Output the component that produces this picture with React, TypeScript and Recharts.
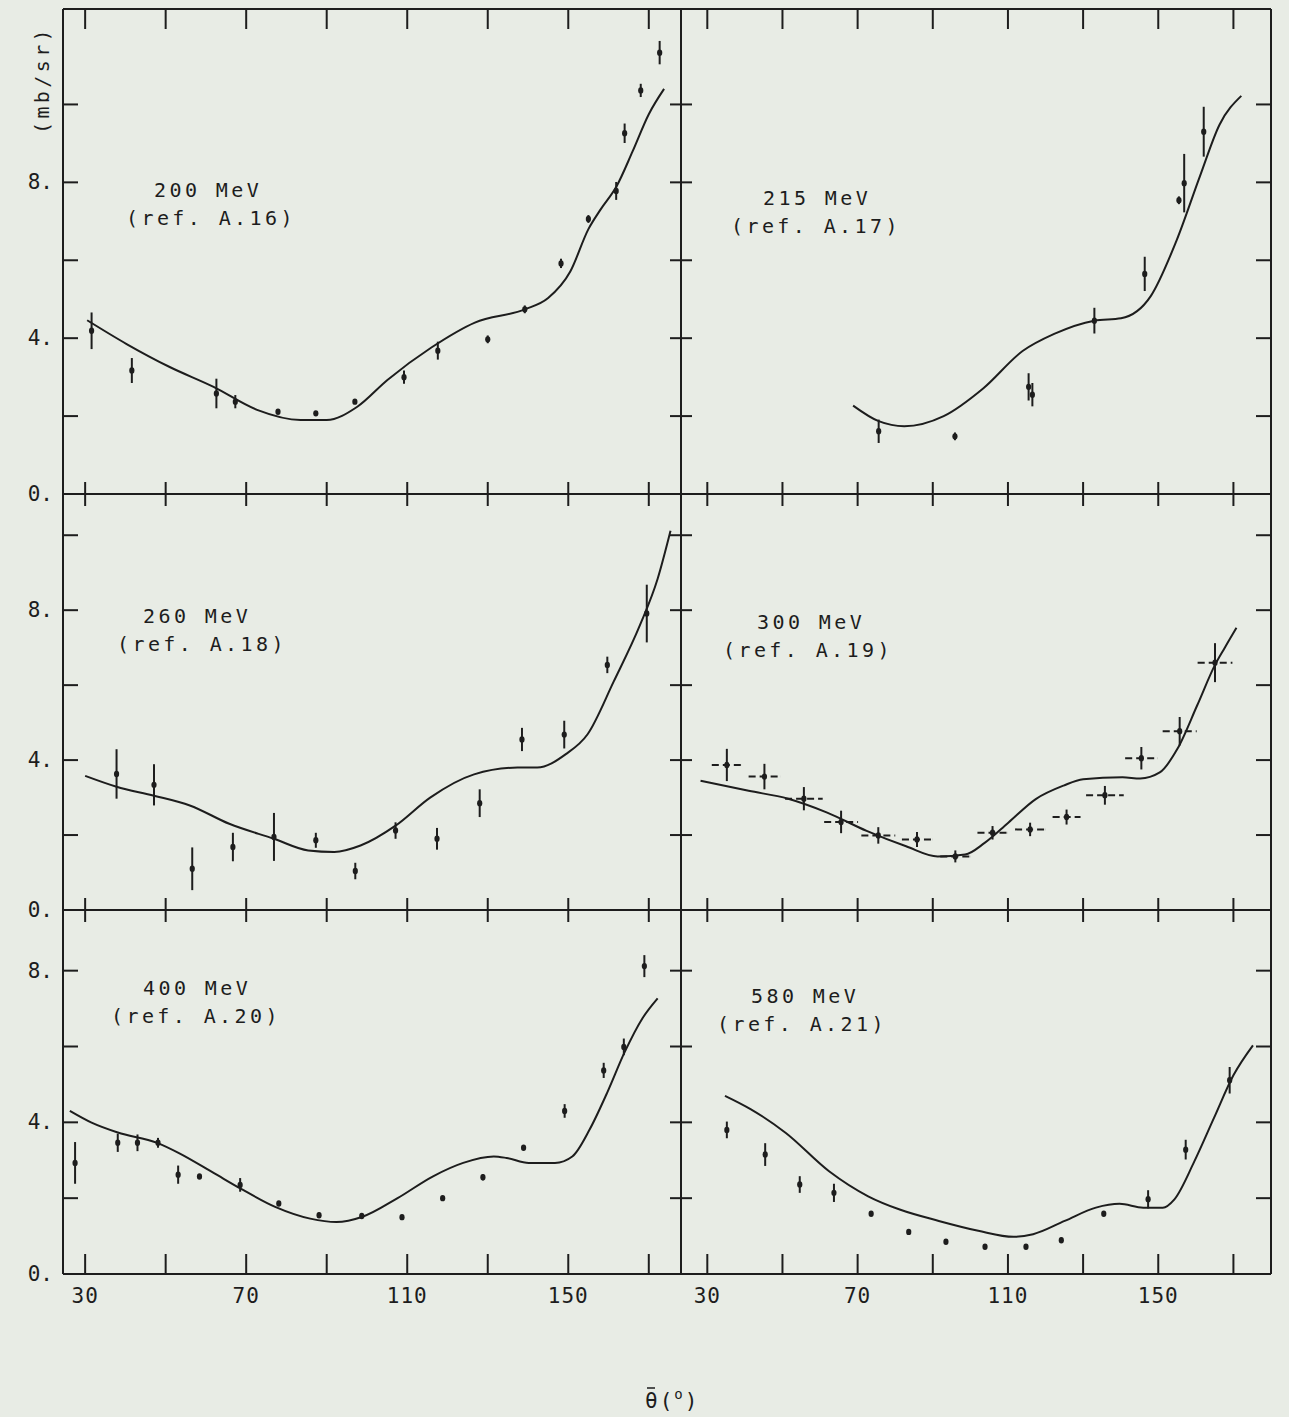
import React from 'react';
import { ComposedChart, Line, Scatter, XAxis, YAxis, ErrorBar } from 'recharts';

// ---- data (angle in degrees, cross section in mb/sr)

const ang200 = [31.6, 41.6, 62.6, 67.3, 77.9, 87.3, 97.0, 109.2, 117.6, 130.0, 139.2, 148.2, 155.0, 161.9, 164.0, 168.0, 172.7];
const val200 = [4.19, 3.17, 2.58, 2.37, 2.11, 2.07, 2.37, 3.0, 3.68, 3.97, 4.74, 5.92, 7.06, 7.78, 9.26, 10.36, 11.33];
const err200 = [0.47, 0.32, 0.38, 0.17, 0.05, 0.04, 0.05, 0.17, 0.23, 0.1, 0.1, 0.12, 0.1, 0.23, 0.25, 0.17, 0.3];
const fitAng200 = [30.5, 40.3, 51, 61.9, 72.7, 83.5, 90, 97.6, 105, 116, 126.8, 139.2, 145, 150.5, 155, 158, 162, 166, 170, 173.8];
const fitVal200 = [4.46, 3.85, 3.26, 2.75, 2.16, 1.9, 1.9, 2.24, 2.92, 3.76, 4.4, 4.74, 5.03, 5.71, 6.8, 7.3, 7.9, 8.8, 9.75, 10.4];

const ang215 = [75.6, 95.9, 115.5, 116.5, 133.0, 146.4, 155.5, 156.9, 162.1];
const val215 = [1.61, 1.48, 2.75, 2.55, 4.45, 5.65, 7.54, 7.98, 9.3];
const err215 = [0.3, 0.1, 0.35, 0.3, 0.33, 0.44, 0.1, 0.75, 0.64];
const fitAng215 = [68.8, 75.6, 82.4, 92.9, 103.4, 113.9, 122.3, 133.0, 140.1, 148.0, 154.8, 161.1, 166.3, 172.1];
const fitVal215 = [2.27, 1.87, 1.74, 2.0, 2.71, 3.67, 4.11, 4.45, 4.51, 5.08, 6.49, 8.16, 9.48, 10.22];

const ang260 = [37.8, 47.1, 56.6, 66.7, 76.9, 87.3, 97.1, 107.1, 117.4, 128.0, 138.5, 149.0, 159.7, 169.5];
const val260 = [3.63, 3.34, 1.1, 1.68, 1.95, 1.86, 1.04, 2.12, 1.9, 2.85, 4.55, 4.68, 6.54, 7.91];
const err260 = [0.66, 0.55, 0.57, 0.38, 0.64, 0.2, 0.22, 0.22, 0.29, 0.37, 0.31, 0.37, 0.22, 0.77];
const fitAng260 = [30, 37.8, 47.1, 56, 65.8, 76.9, 85.4, 91.9, 98.4, 107.1, 115.7, 126.6, 137.4, 142.3, 149.4, 154.8, 161.3, 167.8, 172.2, 175.4];
const fitVal260 = [3.58, 3.29, 3.05, 2.79, 2.3, 1.9, 1.59, 1.55, 1.72, 2.25, 3.0, 3.62, 3.8, 3.8, 4.16, 4.69, 6.1, 7.6, 8.84, 10.12];

const ang300 = [35.2, 45.2, 55.7, 65.6, 75.5, 85.8, 96.0, 105.9, 115.9, 125.6, 135.8, 145.5, 155.7, 165.1];
const val300 = [3.87, 3.56, 2.97, 2.35, 1.99, 1.88, 1.43, 2.06, 2.15, 2.48, 3.06, 4.05, 4.77, 6.6];
const err300 = [0.43, 0.34, 0.31, 0.3, 0.22, 0.2, 0.16, 0.18, 0.18, 0.2, 0.25, 0.3, 0.38, 0.52];
const xerr300 = [4.0, 4.2, 5.0, 4.5, 4.5, 4.0, 4.0, 4.0, 4.0, 3.7, 5.0, 4.3, 4.5, 4.6];
const fitAng300 = [28.2, 41, 51.5, 61.9, 72.4, 82.9, 91.3, 98.6, 103.8, 110.1, 117.4, 124.8, 130, 140.5, 145.2, 150.4, 155.1, 160.4, 165.1, 167.7, 170.8];
const fitVal300 = [3.45, 3.18, 2.97, 2.6, 2.11, 1.7, 1.43, 1.48, 1.79, 2.33, 2.96, 3.32, 3.49, 3.54, 3.51, 3.67, 4.3, 5.47, 6.54, 7.0, 7.53];

const ang400 = [27.5, 38.1, 43.0, 48.1, 53.1, 58.4, 68.5, 78.1, 88.1, 98.7, 108.7, 118.8, 128.8, 138.9, 149.1, 158.8, 163.8, 168.9];
const val400 = [2.93, 3.46, 3.46, 3.46, 2.62, 2.57, 2.35, 1.86, 1.55, 1.53, 1.5, 2.0, 2.55, 3.33, 4.3, 5.37, 5.99, 8.12];
const err400 = [0.55, 0.24, 0.22, 0.13, 0.24, 0.05, 0.18, 0.06, 0.07, 0.07, 0.05, 0.05, 0.08, 0.05, 0.18, 0.2, 0.22, 0.29];
const fitAng400 = [26.2, 31.6, 38.1, 47.9, 53.3, 62, 68.5, 77.2, 85.9, 92.4, 98.9, 107.6, 116.3, 123.9, 131.5, 134.7, 140.2, 146.7, 151, 155.3, 159.7, 164, 168.4, 172.2];
const fitVal400 = [4.3, 3.99, 3.73, 3.46, 3.19, 2.66, 2.26, 1.77, 1.46, 1.37, 1.51, 2.0, 2.57, 2.93, 3.1, 3.06, 2.93, 2.93, 3.1, 3.81, 4.79, 5.85, 6.74, 7.27];

const ang580 = [35.2, 45.4, 54.6, 63.7, 73.6, 83.6, 93.5, 103.9, 114.8, 124.2, 135.5, 147.3, 157.3, 169.0];
const val580 = [3.8, 3.15, 2.36, 2.14, 1.59, 1.11, 0.85, 0.72, 0.72, 0.89, 1.59, 1.97, 3.28, 5.11];
const err580 = [0.22, 0.3, 0.22, 0.24, 0.04, 0.04, 0.04, 0.04, 0.04, 0.07, 0.05, 0.24, 0.26, 0.35];
const fitAng580 = [34.7, 41.5, 50.9, 62.4, 72.8, 81.2, 91.6, 102.1, 111.5, 116.7, 125.1, 133.4, 139.7, 146, 151.2, 154.3, 159.6, 164.8, 170, 175.2];
const fitVal580 = [4.7, 4.35, 3.72, 2.71, 2.05, 1.7, 1.4, 1.14, 0.98, 1.05, 1.4, 1.75, 1.85, 1.75, 1.75, 1.97, 2.97, 4.11, 5.24, 6.03];

const xTicks = [30, 50, 70, 90, 110, 130, 150, 170];
const xLabels = [30, 70, 110, 150];
const yLabels = [0, 4, 8];

const INK = '#1d1d1d';
const FONT = '"DejaVu Sans Mono", monospace';
// outer room around each plot frame; axes take 1px each so the frame lands on the panel edges
const PAD = { top: 29, right: 29, bottom: 44, left: 69 };

const points = (a: number[], v: number[], e: number[], xe?: number[]) =>
  a.map((x, i) => ({ x, y: v[i], e: e[i], xe: xe ? xe[i] : 0 }));
const curve = (a: number[], v: number[]) => a.map((x, i) => ({ x, y: v[i] }));

type Side = 'top' | 'bottom' | 'left' | 'right';

const tickRenderer = (side: Side, len: number, labels: number[]) => (props: any) => {
  const { x, y, payload } = props;
  const v = payload.value;
  let line;
  if (side === 'bottom') line = <line x1={x} y1={y} x2={x} y2={y - len} />;
  else if (side === 'top') line = <line x1={x} y1={y} x2={x} y2={y + len} />;
  else if (side === 'left') line = <line x1={x} y1={y} x2={x + len} y2={y} />;
  else line = <line x1={x} y1={y} x2={x - len} y2={y} />;
  const show = labels.includes(v);
  return (
    <g stroke={INK} strokeWidth={2}>
      {line}
      {show && side === 'bottom' && (
        <text x={x} y={y + 29} textAnchor="middle" stroke="none" fill={INK} fontFamily={FONT} fontSize={21} letterSpacing={1}>
          {v}
        </text>
      )}
      {show && side === 'left' && (
        <text x={x - 10} y={y + 7} textAnchor="end" stroke="none" fill={INK} fontFamily={FONT} fontSize={21}>
          {v + '.'}
        </text>
      )}
    </g>
  );
};

const Dot = (props: any) => {
  const { cx, cy } = props;
  if (cx == null || cy == null) return null;
  return <ellipse cx={cx} cy={cy} rx={2.6} ry={3.2} fill={INK} />;
};

interface PanelProps {
  x0: number; y0: number; w: number; h: number;
  xMin: number; xMax: number; yMax: number; yTicks: number[];
  data: { x: number; y: number; e: number; xe: number }[];
  fit: { x: number; y: number }[];
  col: 0 | 1; row: 0 | 1 | 2; xBars?: boolean;
}

const Panel = ({ x0, y0, w, h, xMin, xMax, yMax, yTicks, data, fit, col, row, xBars }: PanelProps) => {
  const topLen = row === 0 ? 20 : 12;
  const botLen = row === 2 ? 20 : 12;
  const leftLen = col === 0 ? 15 : 11;
  const rightLen = col === 1 ? 15 : 11;
  const axisLine = { stroke: INK, strokeWidth: 2 };
  return (
    <div style={{ position: 'absolute', left: x0 - PAD.left - 1, top: y0 - PAD.top - 1 }}>
      <ComposedChart width={w + PAD.left + PAD.right + 2} height={h + PAD.top + PAD.bottom + 2} margin={PAD}>
        <XAxis xAxisId="b" type="number" dataKey="x" orientation="bottom" domain={[xMin, xMax]} allowDataOverflow
          ticks={xTicks} interval={0} height={1} tickSize={0} tickMargin={0} axisLine={axisLine} tickLine={false}
          tick={tickRenderer('bottom', botLen, row === 2 ? xLabels : [])} />
        <XAxis xAxisId="t" type="number" dataKey="x" orientation="top" domain={[xMin, xMax]} allowDataOverflow
          ticks={xTicks} interval={0} height={1} tickSize={0} tickMargin={0} axisLine={axisLine} tickLine={false}
          tick={tickRenderer('top', topLen, [])} />
        <YAxis yAxisId="l" type="number" dataKey="y" orientation="left" domain={[0, yMax]} allowDataOverflow
          ticks={yTicks} interval={0} width={1} tickSize={0} tickMargin={0} axisLine={axisLine} tickLine={false}
          tick={tickRenderer('left', leftLen, col === 0 ? yLabels : [])} />
        <YAxis yAxisId="r" type="number" dataKey="y" orientation="right" domain={[0, yMax]} allowDataOverflow
          ticks={yTicks} interval={0} width={1} tickSize={0} tickMargin={0} axisLine={axisLine} tickLine={false}
          tick={tickRenderer('right', rightLen, [])} />
        <Line xAxisId="b" yAxisId="l" data={fit} dataKey="y" type="monotone" dot={false}
          stroke={INK} strokeWidth={2} isAnimationActive={false} />
        <Scatter xAxisId="b" yAxisId="l" data={data} dataKey="y" shape={<Dot />} isAnimationActive={false}>
          <ErrorBar dataKey="e" direction="y" width={0} stroke={INK} strokeWidth={2} />
          {xBars && <ErrorBar dataKey="xe" direction="x" width={0} stroke={INK} strokeWidth={2} strokeDasharray="7 4" />}
        </Scatter>
      </ComposedChart>
    </div>
  );
};

const COLS = [{ x0: 63, w: 618, xMin: 24.5, xMax: 178 }, { x0: 681, w: 590, xMin: 23, xMax: 180 }];
const ROWS = [
  { y0: 9, h: 485, yMax: 12.45, yTicks: [0, 2, 4, 6, 8, 10] },
  { y0: 494, h: 416, yMax: 11.1, yTicks: [0, 2, 4, 6, 8, 10] },
  { y0: 910, h: 364, yMax: 9.6, yTicks: [0, 2, 4, 6, 8] },
];

const notes = [
  { t: '200 MeV', r: '(ref. A.16)', x: 154, rx: 126, y: 197 },
  { t: '215 MeV', r: '(ref. A.17)', x: 763, rx: 731, y: 205 },
  { t: '260 MeV', r: '(ref. A.18)', x: 143, rx: 117, y: 623 },
  { t: '300 MeV', r: '(ref. A.19)', x: 757, rx: 723, y: 629 },
  { t: '400 MeV', r: '(ref. A.20)', x: 143, rx: 111, y: 995 },
  { t: '580 MeV', r: '(ref. A.21)', x: 751, rx: 717, y: 1003 },
];

export default function App() {
  const panels = [
    { col: 0, row: 0, data: points(ang200, val200, err200), fit: curve(fitAng200, fitVal200) },
    { col: 1, row: 0, data: points(ang215, val215, err215), fit: curve(fitAng215, fitVal215) },
    { col: 0, row: 1, data: points(ang260, val260, err260), fit: curve(fitAng260, fitVal260) },
    { col: 1, row: 1, data: points(ang300, val300, err300, xerr300), fit: curve(fitAng300, fitVal300), xBars: true },
    { col: 0, row: 2, data: points(ang400, val400, err400), fit: curve(fitAng400, fitVal400) },
    { col: 1, row: 2, data: points(ang580, val580, err580), fit: curve(fitAng580, fitVal580) },
  ];
  return (
    <div style={{ position: 'absolute', left: 0, top: 0, width: 1289, height: 1417, background: '#e8ece5', overflow: 'hidden' }}>
      {panels.map((p, i) => {
        const c = COLS[p.col];
        const r = ROWS[p.row];
        return (
          <Panel key={i} x0={c.x0} w={c.w} xMin={c.xMin} xMax={c.xMax} y0={r.y0} h={r.h} yMax={r.yMax}
            yTicks={r.yTicks} data={p.data} fit={p.fit} col={p.col as 0 | 1} row={p.row as 0 | 1 | 2} xBars={p.xBars} />
        );
      })}
      <svg width={1289} height={1417} style={{ position: 'absolute', left: 0, top: 0, pointerEvents: 'none' }}>
        <g fill={INK} fontFamily={FONT} fontSize={20} letterSpacing={3.4}>
          {notes.map((n, i) => (
            <g key={i}>
              <text x={n.x} y={n.y}>{n.t}</text>
              <text x={n.rx} y={n.y + 28}>{n.r}</text>
            </g>
          ))}
          <text x={43} y={80} textAnchor="middle" transform="rotate(-90 43 80)" dominantBaseline="middle">(mb/sr)</text>
          <text x={645} y={1408} fontSize={21} letterSpacing={2}>
            {'\u03B8('}
            <tspan dy={-9} fontSize={14}>o</tspan>
            <tspan dy={9}>)</tspan>
          </text>
        </g>
        <line x1={647} y1={1388} x2={655} y2={1388} stroke={INK} strokeWidth={1.5} />
      </svg>
    </div>
  );
}
